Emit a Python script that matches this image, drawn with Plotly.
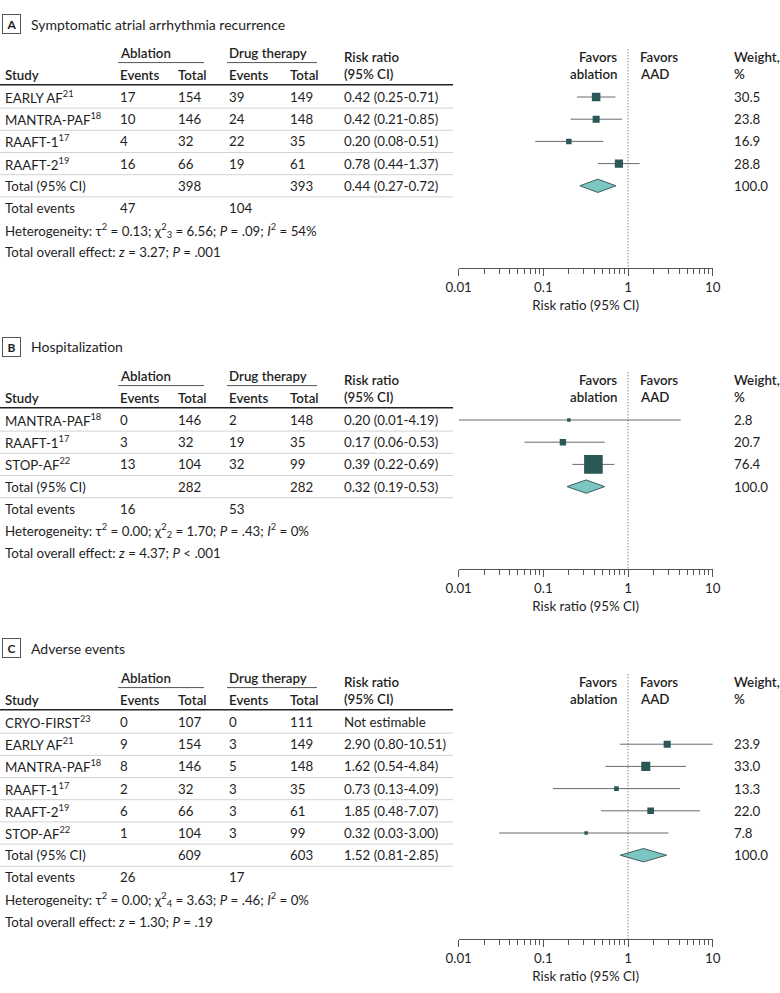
import plotly.graph_objects as go

W, H = 780, 993

# ---------------- Data ----------------
# Panel A
A_letter = "A"
A_title = "Symptomatic atrial arrhythmia recurrence"
A_studies = ["EARLY AF", "MANTRA-PAF", "RAAFT-1", "RAAFT-2"]
A_refs = ["21", "18", "17", "19"]
A_abl_events = [17, 10, 4, 16]
A_abl_total = [154, 146, 32, 66]
A_drug_events = [39, 24, 22, 19]
A_drug_total = [149, 148, 35, 61]
A_rr = [0.42, 0.42, 0.20, 0.78]
A_lo = [0.25, 0.21, 0.08, 0.44]
A_hi = [0.71, 0.85, 0.51, 1.37]
A_weight = [30.5, 23.8, 16.9, 28.8]
A_sum_total = [398, 393]
A_pooled = [0.44, 0.27, 0.72]
A_sum_events = [47, 104]
A_het = "Heterogeneity: τ<sup>2</sup> = 0.13; χ<sup>2</sup><sub>3</sub> = 6.56; <i>P</i> = .09; <i>I</i><sup>2</sup> = 54%"
A_overall = "Total overall effect: <i>z</i> = 3.27; <i>P</i> = .001"

# Panel B
B_letter = "B"
B_title = "Hospitalization"
B_studies = ["MANTRA-PAF", "RAAFT-1", "STOP-AF"]
B_refs = ["18", "17", "22"]
B_abl_events = [0, 3, 13]
B_abl_total = [146, 32, 104]
B_drug_events = [2, 19, 32]
B_drug_total = [148, 35, 99]
B_rr = [0.20, 0.17, 0.39]
B_lo = [0.01, 0.06, 0.22]
B_hi = [4.19, 0.53, 0.69]
B_weight = [2.8, 20.7, 76.4]
B_sum_total = [282, 282]
B_pooled = [0.32, 0.19, 0.53]
B_sum_events = [16, 53]
B_het = "Heterogeneity: τ<sup>2</sup> = 0.00; χ<sup>2</sup><sub>2</sub> = 1.70; <i>P</i> = .43; <i>I</i><sup>2</sup> = 0%"
B_overall = "Total overall effect: <i>z</i> = 4.37; <i>P</i> < .001"

# Panel C
C_letter = "C"
C_title = "Adverse events"
C_studies = ["CRYO-FIRST", "EARLY AF", "MANTRA-PAF", "RAAFT-1", "RAAFT-2", "STOP-AF"]
C_refs = ["23", "21", "18", "17", "19", "22"]
C_abl_events = [0, 9, 8, 2, 6, 1]
C_abl_total = [107, 154, 146, 32, 66, 104]
C_drug_events = [0, 3, 5, 3, 3, 3]
C_drug_total = [111, 149, 148, 35, 61, 99]
C_rr = [None, 2.90, 1.62, 0.73, 1.85, 0.32]
C_lo = [None, 0.80, 0.54, 0.13, 0.48, 0.03]
C_hi = [None, 10.51, 4.84, 4.09, 7.07, 3.00]
C_weight = [None, 23.9, 33.0, 13.3, 22.0, 7.8]
C_sum_total = [609, 603]
C_pooled = [1.52, 0.81, 2.85]
C_sum_events = [26, 17]
C_het = "Heterogeneity: τ<sup>2</sup> = 0.00; χ<sup>2</sup><sub>4</sub> = 3.63; <i>P</i> = .46; <i>I</i><sup>2</sup> = 0%"
C_overall = "Total overall effect: <i>z</i> = 1.30; <i>P</i> = .19"

tick_vals = [0.01, 0.1, 1, 10]
tick_text = ["0.01", "0.1", "1", "10"]
axis_title = "Risk ratio (95% CI)"

# ---------------- Style / layout ----------------
FONT = "Lato, sans-serif"
FS = 13.3
TXT = "#1e1e1e"
SQ = "#2a5856"
DIA_FILL = "#7cc6c2"
DIA_LINE = "#3b5f5d"
CI_COL = "#6a6a6a"
ROW_PX = 22.2
X_AX0, X_AX1 = 458.7, 712.7
COL = dict(study=3, ae=118, at=176, de=227, dt=288, rr=342, wt=732,
           fav_r=619, fav_l=638)

panels = [
    dict(letter=A_letter, title=A_title, studies=A_studies, refs=A_refs,
         ae=A_abl_events, at=A_abl_total, de=A_drug_events, dt=A_drug_total,
         rr=A_rr, lo=A_lo, hi=A_hi, w=A_weight, tot=A_sum_total,
         pooled=A_pooled, ev=A_sum_events, het=A_het, overall=A_overall,
         title_px=24, row0=97, axis_px=268),
    dict(letter=B_letter, title=B_title, studies=B_studies, refs=B_refs,
         ae=B_abl_events, at=B_abl_total, de=B_drug_events, dt=B_drug_total,
         rr=B_rr, lo=B_lo, hi=B_hi, w=B_weight, tot=B_sum_total,
         pooled=B_pooled, ev=B_sum_events, het=B_het, overall=B_overall,
         title_px=347, row0=420, axis_px=569),
    dict(letter=C_letter, title=C_title, studies=C_studies, refs=C_refs,
         ae=C_abl_events, at=C_abl_total, de=C_drug_events, dt=C_drug_total,
         rr=C_rr, lo=C_lo, hi=C_hi, w=C_weight, tot=C_sum_total,
         pooled=C_pooled, ev=C_sum_events, het=C_het, overall=C_overall,
         title_px=648, row0=722, axis_px=939),
]

fig = go.Figure()
annotations = []
shapes = []
layout_axes = {}


def px(xp):
    return xp / W


def ann(text, xp, y, yref, anchor="left", weight=400, size=FS):
    annotations.append(dict(
        text=text, x=px(xp), y=y, xref="paper", yref=yref,
        xanchor=anchor, yanchor="middle", showarrow=False,
        font=dict(family=FONT, size=size, color=TXT, weight=weight)))


minor_vals = [m * 10 ** e for e in (-2, -1, 0) for m in range(2, 10)]

for k, p in enumerate(panels, start=1):
    sfx = "" if k == 1 else str(k)
    xa, ya = "x" + sfx, "y" + sfx
    top_row = -2.6
    bot_row = (p["axis_px"] - p["row0"]) / ROW_PX
    top_px = p["row0"] + top_row * ROW_PX
    layout_axes["xaxis" + sfx] = dict(
        type="log", range=[-2, 1], domain=[px(X_AX0), px(X_AX1)], anchor=ya,
        showline=True, linecolor="#555", linewidth=1, mirror=False,
        ticks="outside", ticklen=7, tickcolor="#555", tickwidth=1,
        tickvals=tick_vals, ticktext=tick_text, showgrid=False, zeroline=False,
        tickfont=dict(family=FONT, size=FS, color=TXT),
        minor=dict(tickvals=minor_vals, ticks="outside", ticklen=5,
                   tickcolor="#555", showgrid=False),
        title=dict(text=axis_title, font=dict(family=FONT, size=FS, color=TXT),
                   standoff=6),
        automargin=False, fixedrange=True)
    layout_axes["yaxis" + sfx] = dict(
        range=[bot_row, top_row], visible=False, anchor=xa, automargin=False,
        domain=[1 - p["axis_px"] / H, 1 - top_px / H], fixedrange=True)

    n = len(p["studies"])
    rows = list(range(n))
    tot_row = n

    # CI lines
    xs, ys = [], []
    for i in rows:
        if p["rr"][i] is None:
            continue
        xs += [p["lo"][i], p["hi"][i], None]
        ys += [i, i, None]
    fig.add_trace(go.Scatter(x=xs, y=ys, mode="lines", xaxis=xa, yaxis=ya,
                             line=dict(color=CI_COL, width=1), hoverinfo="skip"))
    # squares (size scaled with study weight)
    mx = [p["rr"][i] for i in rows if p["rr"][i] is not None]
    my = [i for i in rows if p["rr"][i] is not None]
    ms = [max(3.5, 0.22 * p["w"][i] + 1.8) for i in rows if p["rr"][i] is not None]
    fig.add_trace(go.Scatter(x=mx, y=my, mode="markers", xaxis=xa, yaxis=ya,
                             marker=dict(symbol="square", size=ms, color=SQ,
                                         opacity=1, line=dict(width=0))))
    # pooled diamond
    est, lo, hi = p["pooled"]
    fig.add_trace(go.Scatter(
        x=[lo, est, hi, est, lo],
        y=[tot_row, tot_row - 0.3, tot_row, tot_row + 0.3, tot_row],
        mode="lines", fill="toself", fillcolor=DIA_FILL, xaxis=xa, yaxis=ya,
        line=dict(color=DIA_LINE, width=1), hoverinfo="skip"))

    # dotted line at RR = 1
    shapes.append(dict(type="line", xref=xa, yref=ya, x0=1, x1=1,
                       y0=-2.15, y1=bot_row,
                       line=dict(color="#555", width=1, dash="1px,2px")))

    # table rules
    shapes.append(dict(type="line", xref="paper", yref=ya, x0=px(118), x1=px(204),
                       y0=-1.55, y1=-1.55, line=dict(color="#555", width=1)))
    shapes.append(dict(type="line", xref="paper", yref=ya, x0=px(227), x1=px(317),
                       y0=-1.55, y1=-1.55, line=dict(color="#555", width=1)))
    shapes.append(dict(type="line", xref="paper", yref=ya, x0=0, x1=px(453),
                       y0=-0.55, y1=-0.55, line=dict(color="#222", width=1.5)))
    for i in range(n + 1):
        shapes.append(dict(type="line", xref="paper", yref=ya, x0=0, x1=px(453),
                           y0=i + 0.5, y1=i + 0.5, line=dict(color="#d2d2d2", width=1)))

    # panel title
    annotations.append(dict(
        text="<b>%s</b>" % p["letter"], x=px(11.5), y=1 - p["title_px"] / H,
        xref="paper", yref="paper", xanchor="center", yanchor="middle",
        showarrow=False, width=13, height=14, borderpad=2, bordercolor="#555",
        borderwidth=1, font=dict(family=FONT, size=12, color=TXT)))
    annotations.append(dict(
        text=p["title"], x=px(29), y=1 - p["title_px"] / H, xref="paper", yref="paper",
        xanchor="left", yanchor="middle", showarrow=False,
        font=dict(family=FONT, size=14, color=TXT)))

    # headers
    ann("Ablation", COL["ae"], -2, ya, weight=600)
    ann("Drug therapy", COL["de"], -2, ya, weight=600)
    ann("Study", COL["study"], -1, ya, weight=600)
    ann("Events", COL["ae"], -1, ya, weight=600)
    ann("Total", COL["at"], -1, ya, weight=600)
    ann("Events", COL["de"], -1, ya, weight=600)
    ann("Total", COL["dt"], -1, ya, weight=600)
    ann("Risk ratio", COL["rr"], -1.8, ya, weight=600)
    ann("(95% CI)", COL["rr"], -1.05, ya, weight=600)
    ann("Favors", COL["fav_r"], -1.8, ya, anchor="right", weight=600)
    ann("ablation", COL["fav_r"], -1.05, ya, anchor="right", weight=600)
    ann("Favors", COL["fav_l"], -1.8, ya, weight=600)
    ann("AAD", COL["fav_l"], -1.05, ya, weight=600)
    ann("Weight,", COL["wt"], -1.8, ya, weight=600)
    ann("%", COL["wt"], -1.05, ya, weight=600)

    # study rows
    for i in rows:
        ann("%s<sup>%s</sup>" % (p["studies"][i], p["refs"][i]), COL["study"], i, ya)
        ann(str(p["ae"][i]), COL["ae"], i, ya)
        ann(str(p["at"][i]), COL["at"], i, ya)
        ann(str(p["de"][i]), COL["de"], i, ya)
        ann(str(p["dt"][i]), COL["dt"], i, ya)
        if p["rr"][i] is None:
            ann("Not estimable", COL["rr"], i, ya)
        else:
            ann("%.2f (%.2f-%.2f)" % (p["rr"][i], p["lo"][i], p["hi"][i]), COL["rr"], i, ya)
            ann("%.1f" % p["w"][i], COL["wt"], i, ya)

    # total row
    ann("Total (95% CI)", COL["study"], tot_row, ya)
    ann(str(p["tot"][0]), COL["at"], tot_row, ya)
    ann(str(p["tot"][1]), COL["dt"], tot_row, ya)
    ann("%.2f (%.2f-%.2f)" % (est, lo, hi), COL["rr"], tot_row, ya)
    ann("100.0", COL["wt"], tot_row, ya)
    # summary rows
    ann("Total events", COL["study"], tot_row + 1, ya)
    ann(str(p["ev"][0]), COL["ae"], tot_row + 1, ya)
    ann(str(p["ev"][1]), COL["de"], tot_row + 1, ya)
    ann(p["het"], COL["study"], tot_row + 2, ya)
    ann(p["overall"], COL["study"], tot_row + 3, ya)

fig.update_layout(
    width=W, height=H, autosize=False, margin=dict(l=0, r=0, t=0, b=0, pad=0),
    paper_bgcolor="white", plot_bgcolor="white", showlegend=False,
    annotations=annotations, shapes=shapes, **layout_axes)

fig.write_html(
    "out.html",
    config={"responsive": False, "displayModeBar": False},
    post_script="document.body.style.margin='0';"
                "document.documentElement.style.overflow='hidden';")
